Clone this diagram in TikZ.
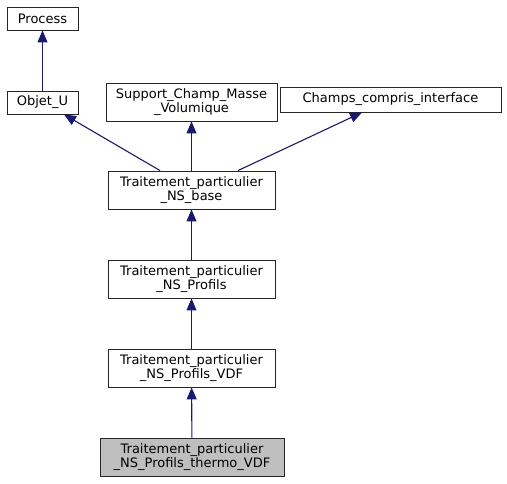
\documentclass[tikz,border=0pt]{standalone}
\usepackage{fontspec}
\setmainfont{DejaVu Sans}
\usetikzlibrary{arrows.meta}
\definecolor{edgeblue}{RGB}{25,25,112}
\tikzset{cls/.style={draw=black!85, line width=0.9pt, fill=white, align=center, inner sep=0pt, font=\fontsize{13}{14.5}\selectfont},
  inh/.style={draw=edgeblue, line width=1.1pt, -{Triangle[length=12pt,width=10pt]}}}
\begin{document}
\begin{tikzpicture}[x=1pt,y=-1pt]
\useasboundingbox (0,0) rectangle (507,484);
\node[cls, minimum width=71pt, minimum height=23pt] (process) at (42.5,18.5) {Process};
\node[cls, minimum width=71pt, minimum height=23pt] (objet) at (42.5,102.5) {Objet\_U};
\node[cls, minimum width=171pt, minimum height=38pt] (support) at (191.5,102) {Support\_Champ\_Masse\\\_Volumique};
\node[cls, minimum width=221pt, minimum height=25pt] (champs) at (390.5,99.5) {Champs\_compris\_interface};
\node[cls, minimum width=167pt, minimum height=38pt] (base) at (191.5,190) {Traitement\_particulier\\\_NS\_base};
\node[cls, minimum width=167pt, minimum height=38pt] (profils) at (191.5,279) {Traitement\_particulier\\\_NS\_Profils};
\node[cls, minimum width=167pt, minimum height=38pt] (vdf) at (191.5,368) {Traitement\_particulier\\\_NS\_Profils\_VDF};
\node[cls, fill=black!25, minimum width=184pt, minimum height=38pt] (thermo) at (192,457) {Traitement\_particulier\\\_NS\_Profils\_thermo\_VDF};
\draw[inh] (objet) -- (process);
\draw[inh] ([xshift=-31.5pt]base.north) -- ([xshift=21.5pt]objet.south);
\draw[inh] (base) -- (support);
\draw[inh] ([xshift=46.5pt]base.north) -- ([xshift=-28.5pt]champs.south);
\draw[inh] (profils) -- (base);
\draw[inh] (vdf) -- (profils);
\draw[inh] (thermo) -- (vdf);
\end{tikzpicture}
\end{document}
